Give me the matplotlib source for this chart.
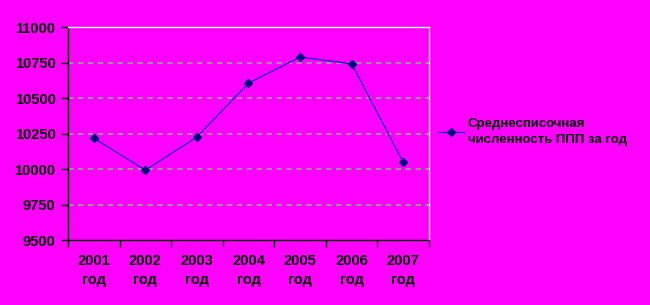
import matplotlib
matplotlib.use("Agg")
import matplotlib.pyplot as plt
import numpy as np

years = ["2001", "2002", "2003", "2004", "2005", "2006", "2007"]
values = [10217, 9992, 10226, 10605, 10788, 10741, 10048]
y_ticks = [9500, 9750, 10000, 10250, 10500, 10750, 11000]
series_name = "Среднесписочная\nчисленность ППП за год"

plt.rcParams['font.family'] = ['Liberation Sans', 'DejaVu Sans']

fig = plt.figure(figsize=(6.5, 3.05), dpi=100)
fig.patch.set_facecolor('#FF00FF')
ax = fig.add_axes([68/650, 1-240/305, (429-68)/650, (240-27)/305])
ax.set_facecolor('#FF00FF')

x = np.arange(len(years))
line, = ax.plot(x, values, color='#0000CC', lw=0.8, marker='D', ms=4.5,
                mfc='#000080', mec='#000080', label=series_name)

ax.set_xlim(-0.5, len(years) - 0.5)
ax.set_ylim(y_ticks[0], y_ticks[-1])
ax.set_yticks(y_ticks)
ax.set_yticklabels([str(v) for v in y_ticks], fontsize=10.5, fontweight='bold')
for v in y_ticks[1:-1]:
    ax.axhline(v, color='#999999', lw=1.3, ls=(0, (3, 2.5)), zorder=0)

ax.set_xticks(np.arange(-0.5, len(years) + 0.5, 1))
ax.set_xticklabels([])
ax.set_xticks(x, minor=True)
ax.set_xticklabels([f"{y}\nгод" for y in years], minor=True,
                   fontsize=10.5, fontweight='bold', linespacing=1.45)
ax.tick_params(axis='x', which='minor', length=0, pad=10)
ax.tick_params(axis='x', which='major', length=5, direction='out', width=1)
ax.tick_params(axis='y', length=5, direction='out', width=1, pad=4)

for s in ['top', 'right']:
    ax.spines[s].set_color('white')
    ax.spines[s].set_linewidth(1)
for s in ['left', 'bottom']:
    ax.spines[s].set_color('black')
    ax.spines[s].set_linewidth(1)

leg = fig.legend(handles=[line], loc='center left', bbox_to_anchor=(426/650, 1-132/305),
                 frameon=False, handlelength=1.95, handletextpad=0.3,
                 prop={'weight': 'bold', 'size': 9.5})
for t in leg.get_texts():
    t.set_linespacing(1.35)

fig.savefig('out.png', dpi=100, facecolor=fig.get_facecolor())
